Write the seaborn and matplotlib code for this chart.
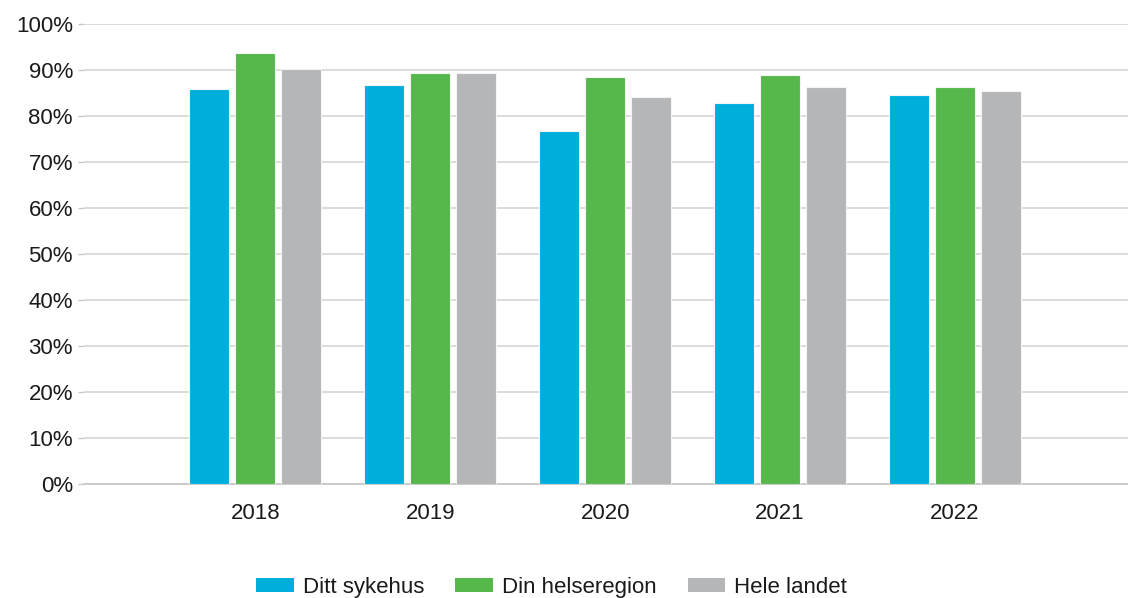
import pandas as pd
import matplotlib.pyplot as plt
import seaborn as sns
from matplotlib.patches import Patch
from matplotlib.ticker import PercentFormatter

# --- Data ---
years = ['2018', '2019', '2020', '2021', '2022']
series_names = ['Ditt sykehus', 'Din helseregion', 'Hele landet']
ditt_sykehus = [85.9, 86.7, 76.7, 82.8, 84.6]
din_helseregion = [93.6, 89.3, 88.5, 88.9, 86.3]
hele_landet = [90.2, 89.3, 84.1, 86.3, 85.4]
colors = ['#00AEDB', '#56B74B', '#B5B6B8']

# --- Build long table for seaborn ---
rows = []
for name, vals in zip(series_names, [ditt_sykehus, din_helseregion, hele_landet]):
    for yr, v in zip(years, vals):
        rows.append({'Year': yr, 'Series': name, 'Value': v})
df = pd.DataFrame(rows)

sns.set_theme(style="white")
plt.rcParams['font.family'] = ['Liberation Sans', 'DejaVu Sans']

fig = plt.figure(figsize=(11.28, 5.98), dpi=100)
ax = fig.add_axes([84 / 1128, 1 - 484 / 598, 1 - 84 / 1128, (484 - 24) / 598])

sns.barplot(
    data=df, x='Year', y='Value', hue='Series',
    order=years, hue_order=series_names, palette=colors, saturation=1,
    width=0.79, gap=0.13, edgecolor='#f4f4f4', linewidth=0.8,
    legend=False, ax=ax, zorder=3,
)

# --- Axes styling ---
ax.set_ylim(0, 100)
ax.set_xlim(-0.98, 4.99)
ax.set_yticks(range(0, 101, 10))
ax.yaxis.set_major_formatter(PercentFormatter(decimals=0))
ax.grid(axis='y', color='#d9d9d9', linewidth=1.3, zorder=0)
ax.set_axisbelow(True)
for side in ['top', 'right', 'left']:
    ax.spines[side].set_visible(False)
ax.spines['bottom'].set_color('#c8c8c8')
ax.spines['bottom'].set_linewidth(1.3)
ax.set_xlabel('')
ax.set_ylabel('')
ax.tick_params(axis='y', length=4, width=1, color='#c8c8c8', pad=4,
               labelsize=16, labelcolor='#1a1a1a', left=True)
ax.tick_params(axis='x', length=0, pad=14, labelsize=16, labelcolor='#1a1a1a')

# --- Legend at bottom ---
handles = [Patch(facecolor=c, edgecolor='none', label=n) for c, n in zip(colors, series_names)]
fig.legend(
    handles=handles, loc='center', bbox_to_anchor=(0.489, 0.018),
    ncol=3, frameon=False, fontsize=16, handlelength=1.7, handleheight=0.6,
    handletextpad=0.4, columnspacing=1.4, labelcolor='#1a1a1a',
)

fig.savefig('out.png', dpi=100)
